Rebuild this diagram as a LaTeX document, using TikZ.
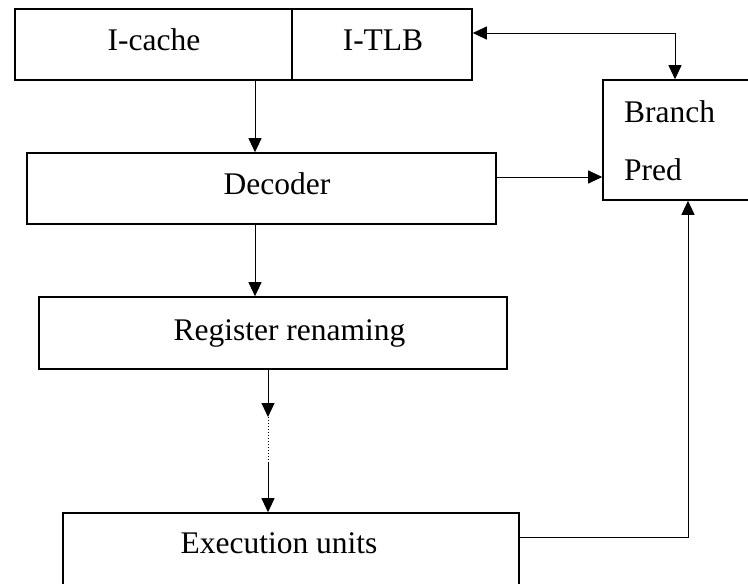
\documentclass[tikz,border=0pt]{standalone}
\usepackage{fontspec}
\setmainfont{Liberation Serif}
\usetikzlibrary{arrows.meta}
\begin{document}
\begin{tikzpicture}[x=1pt,y=-1pt,
  box/.style={draw,line width=1.6pt,rectangle,inner sep=0pt},
  lbl/.style={inner sep=0pt,anchor=base,font=\fontsize{31.5}{37}\selectfont},
  conn/.style={line width=1pt},
  arr/.style={conn,-{Triangle[length=14pt,width=13pt]}},
  darr/.style={conn,{Triangle[length=14pt,width=13pt]}-{Triangle[length=14pt,width=13pt]}}]
\clip (0,0) rectangle (748,584);
\fill[white] (0,0) rectangle (748,584);
% boxes
\node[box,minimum width=277pt,minimum height=71pt] (icache) at (153.5,44.5) {};
\node[box,minimum width=180pt,minimum height=71pt] (itlb) at (382,44.5) {};
\node[box,minimum width=469pt,minimum height=71pt] (decoder) at (261.5,188.5) {};
\node[box,minimum width=468pt,minimum height=72pt] (reg) at (273,333) {};
\node[box,minimum width=456pt,minimum height=90pt] (exec) at (291,558) {};
\node[box,minimum width=170pt,minimum height=120pt] (branch) at (688,140) {};
% texts
\node[lbl] (ticache) at (154,50) {I-cache};
\node[lbl] (titlb) at (383,50) {I-TLB};
\node[lbl] (tdec) at (277,194) {Decoder};
\node[lbl] (treg) at (289.5,340) {Register renaming};
\node[lbl] (texec) at (279,553) {Execution units};
\node[lbl,anchor=base west] (tbranch) at (624,122) {Branch};
\node[lbl,anchor=base west] (tpred) at (624,180) {Pred};
% connectors
\draw[arr] (icache.south -| 255,0) -- (decoder.north -| 255,0);
\draw[arr] (decoder.south -| 255,0) -- (reg.north -| 255,0);
\coordinate (m1) at (268,417);
\coordinate (m2) at (268,463);
\draw[arr] (reg.south -| m1) -- (m1);
\draw[line width=1pt,dotted] (m1) -- (m2);
\draw[arr] (m2) -- (exec.north -| m2);
\coordinate (c1) at (675,33);
\draw[darr] (itlb.east |- c1) -- (c1) -- (branch.north -| c1);
\draw[arr] (decoder.east |- 0,177) -- (branch.west |- 0,177);
\coordinate (c2) at (688,537);
\draw[arr] (exec.east |- c2) -- (c2) -- (branch.south -| c2);
\end{tikzpicture}
\end{document}
